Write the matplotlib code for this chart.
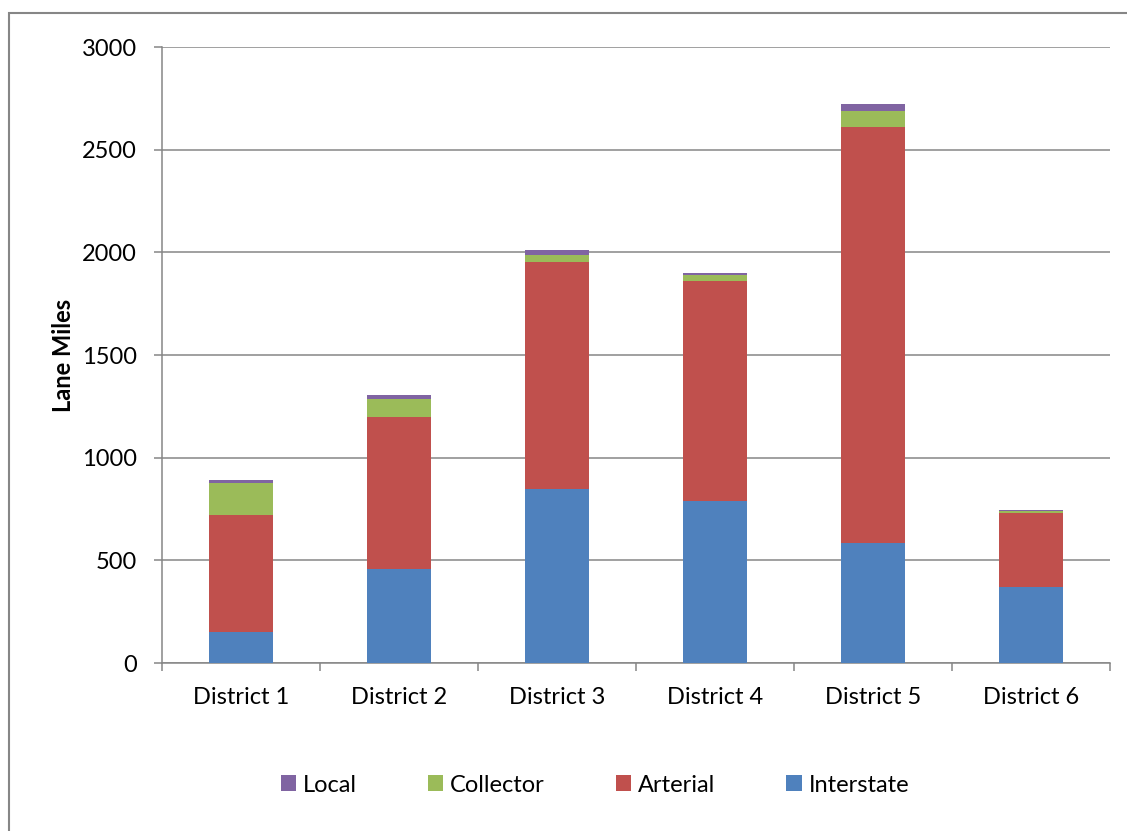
import matplotlib.pyplot as plt
import numpy as np
from matplotlib.patches import Rectangle

# values (lane miles)
districts = ["District 1", "District 2", "District 3", "District 4", "District 5", "District 6"]
interstate = [151, 458, 847, 789, 584, 370]
arterial = [570, 740, 1105, 1070, 2025, 362]
collector = [155, 86, 34, 29, 79, 8]
local = [15, 21, 27, 10, 33, 5]

c_int = "#4F81BD"
c_art = "#C0504D"
c_col = "#9BBB59"
c_loc = "#8064A2"

plt.rcParams['font.family'] = ['Lato', 'DejaVu Sans']

fig = plt.figure(figsize=(11.27, 8.31), dpi=100)
ax = fig.add_axes([162/1127, 168/831, (1110-162)/1127, (663-47)/831])

x = np.arange(len(districts))
w = 0.4
b1 = np.array(interstate)
b2 = b1 + np.array(arterial)
b3 = b2 + np.array(collector)
h_int = ax.bar(x, interstate, w, color=c_int, zorder=3, label="Interstate")
h_art = ax.bar(x, arterial, w, bottom=b1, color=c_art, zorder=3, label="Arterial")
h_col = ax.bar(x, collector, w, bottom=b2, color=c_col, zorder=3, label="Collector")
h_loc = ax.bar(x, local, w, bottom=b3, color=c_loc, zorder=3, label="Local")

ax.set_xlim(-0.5, len(districts) - 0.5)
ax.set_ylim(0, 3000)
ax.set_yticks(np.arange(0, 3001, 500))
ax.yaxis.grid(True, color="#868686", lw=1.1, zorder=0)
ax.set_xticks(x)
ax.set_xticklabels(districts, fontsize=17)
ax.tick_params(axis='x', length=0, pad=17)
ax.set_xticks(np.arange(-0.5, len(districts), 1), minor=True)
ax.tick_params(axis='x', which='minor', length=6, color="#868686", width=1.1)
ax.tick_params(axis='y', labelsize=17, length=6, color="#868686", width=1.1, pad=12)

for s in ['top', 'right']:
    ax.spines[s].set_visible(False)
for s in ['left', 'bottom']:
    ax.spines[s].set_color("#868686")
    ax.spines[s].set_linewidth(1.1)

ax.set_ylabel("Lane Miles", fontsize=17, fontweight='bold', labelpad=5)

leg = fig.legend(handles=[h_loc, h_col, h_art, h_int], labels=["Local", "Collector", "Arterial", "Interstate"],
                 loc='center', bbox_to_anchor=(0.528, 1 - 785/831), ncol=4, frameon=False,
                 fontsize=17, handlelength=0.65, handleheight=0.65, handletextpad=0.3, columnspacing=3.0)

# outer chart border
fig.patches.append(Rectangle((9/1127, -0.01), 1.2, 1 - 13/831 + 0.01, transform=fig.transFigure,
                             fill=False, edgecolor="#868686", lw=1.5))

fig.savefig("out.png", dpi=100)
